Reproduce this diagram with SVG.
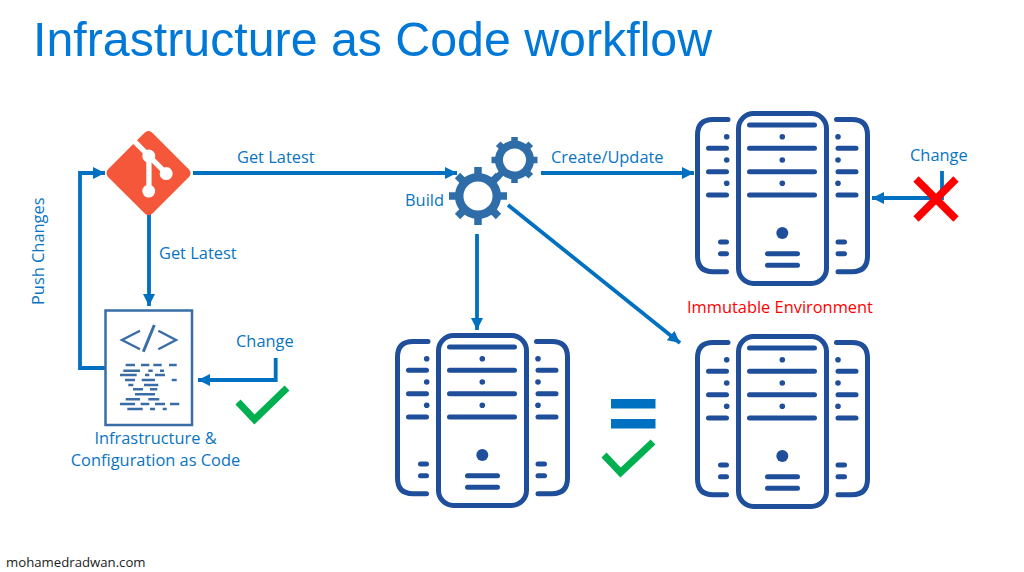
<svg xmlns="http://www.w3.org/2000/svg" width="1024" height="572" viewBox="0 0 1024 572">
<style>
.t{font-family:"Open Sans","Liberation Sans",sans-serif;font-size:16.4px;fill:#0A74C4}
.c{fill:none;stroke:#0070C0;stroke-width:3.8}
.o{fill:none;stroke:#1F4E9B;stroke-width:5;stroke-linecap:round}
.d{fill:#1F4E9B}
.g{fill:none;stroke:#2E6DA8}
.k{fill:none;stroke:#00B050;stroke-width:7}
.m{fill:none;stroke:#3A6DA6;stroke-width:2.4}
</style>
<defs>
<marker id="a" markerUnits="userSpaceOnUse" markerWidth="13" markerHeight="13" refX="12" refY="6.5" orient="auto"><path d="M0 0.500L12 6.500L0 12.500Z" fill="#0070C0"/></marker>
<g id="srv">
<rect class="o" x="43.500" y="2.500" width="88" height="170" rx="15"/>
<path class="o" d="M54.500 14H119.500M54.500 37.300H119.500M54.500 60.700H119.500M54.500 84H119.500M72.500 142.700H102.500M72.500 154.300H102.500"/>
<circle class="d" cx="87.300" cy="25.700" r="2.800"/><circle class="d" cx="87.300" cy="49" r="2.800"/><circle class="d" cx="87.300" cy="72.300" r="2.800"/><circle class="d" cx="87.300" cy="122" r="6"/>
<path class="o" d="M33 8.500H18Q2.500 8.500 2.500 24V145Q2.500 160.700 18 160.700H31.500M13.500 37.300H31.500M13.500 60.700H31.500M13.500 84H31.500M25.500 131H31.500M25.500 142.700H31.500"/>
<circle class="d" cx="31.700" cy="25.700" r="2.800"/><circle class="d" cx="31.700" cy="49" r="2.800"/><circle class="d" cx="31.700" cy="72.300" r="2.800"/>
<path class="o" d="M141.500 8.500H157Q172.500 8.500 172.500 24V145Q172.500 160.700 157 160.700H143M143 37.300H161M143 60.700H161M143 84H161M143 131H149.500M143 142.700H149.500"/>
<circle class="d" cx="143" cy="25.700" r="2.800"/><circle class="d" cx="143" cy="49" r="2.800"/><circle class="d" cx="143" cy="72.300" r="2.800"/>
</g>
</defs>
<rect width="1024" height="572" fill="#fff"/>
<text x="33" y="56" font-family="'Liberation Sans',Arial,sans-serif" font-size="48.300" fill="#0078D7">Infrastructure as Code workflow</text>
<g id="connectors">
<path class="c" marker-end="url(#a)" d="M193 173H457"/>
<path class="c" marker-end="url(#a)" d="M541 173H694"/>
<path class="c" marker-end="url(#a)" d="M149 214V306"/>
<path class="c" marker-end="url(#a)" d="M105 368H80V173H105"/>
<path class="c" marker-end="url(#a)" d="M275.700 358V380H198"/>
<path class="c" marker-end="url(#a)" d="M477 234V330"/>
<path class="c" marker-end="url(#a)" d="M508 205L680 343"/>
<path class="c" marker-end="url(#a)" d="M942 171V198H872"/>
</g>
<g id="git"><path transform="translate(106.500 131) scale(.915)" fill="#F4573A" d="M90.156 41.965L50.036 1.848a5.918 5.918 0 0 0-8.372 0l-8.328 8.332 10.566 10.566a7.030 7.030 0 0 1 7.230 1.684 7.034 7.034 0 0 1 1.669 7.277l10.187 10.184a7.028 7.028 0 0 1 7.278 1.672 7.040 7.040 0 0 1 0 9.957 7.050 7.050 0 0 1-9.965 0 7.044 7.044 0 0 1-1.528-7.660l-9.500-9.497V59.360a7.040 7.040 0 0 1 1.860 11.290 7.040 7.040 0 0 1-9.957 0 7.040 7.040 0 0 1 0-9.958 7.060 7.060 0 0 1 2.304-1.539V33.926a7.049 7.049 0 0 1-3.820-9.234L29.242 14.272 1.730 41.777a5.925 5.925 0 0 0 0 8.371L41.852 90.270a5.925 5.925 0 0 0 8.370 0l39.934-39.934a5.925 5.925 0 0 0 0-8.371"/></g>
<g id="code-doc">
<rect x="105.500" y="310.500" width="86.500" height="114.500" fill="#fff" stroke="#3A6DA6" stroke-width="2.500"/>
<path class="m" d="M140 330.700L122 340L140 349.300M158.300 330.700L176 340L158.300 349.300"/>
<path class="m" d="M154.300 325L143.300 351.700" style="stroke-width:3"/>
<path class="m" d="M125.700 365H135M141 365H149.300M153.300 365H161.700M169 365H176.700M123.300 370.700H140M148.300 370.700H152.700M160 370.700H164M120 375H136.700M145 375H149.300M155 375H165M125 380H135M141.700 380H155M171.700 380H176.700M128.300 385H133.300M144 385H158.300M133 389.300H143M150 389.300H157.300M135 394.300H155M125.700 399.300H140M148.300 399.300H159.300M120 404H135M140.700 404H149.300M155 404H165M170 404H179.300M127.300 409H142.700M150 409H155M162.700 409H166.700"/>
</g>
<g id="build-gears">
<g id="gear-big" transform="translate(478 196)"><circle class="g" r="18.800" stroke-width="8.500"/><path class="g" stroke-width="7.500" d="M0-21V-29M0 21V29M-21 0H-29M21 0H29M-15-15L-20.500-20.500M15-15L20.500-20.500M-15 15L-20.500 20.500M15 15L20.500 20.500"/></g>
<g id="gear-small" transform="translate(514.500 160)"><circle class="g" r="15.500" stroke-width="8"/><path class="g" stroke-width="6.500" d="M0-18V-23M0 18V23M-18 0H-23M18 0H23M-12.700-12.700L-16.300-16.300M12.700-12.700L16.300-16.300M-12.700 12.700L-16.300 16.300M12.700 12.700L16.300 16.300"/></g>
</g>
<use id="server-top" href="#srv" x="695" y="111"/>
<use id="server-right" href="#srv" x="695" y="334"/>
<use id="server-center" href="#srv" x="395" y="333"/>
<g id="reject"><path fill="none" stroke="#FF0000" stroke-width="7.500" d="M916 179L956 219M956 179L916 219"/></g>
<g id="equals"><rect x="611" y="399" width="44.500" height="9.500" fill="#0070C0"/><rect x="611" y="419" width="44.500" height="9.500" fill="#0070C0"/></g>
<g id="checks"><path class="k" d="M238 402L254.500 419.500L287 388"/><path class="k" d="M604 455L620.500 472.500L653 442"/></g>
<g id="labels">
<text class="t" x="237" y="163">Get Latest</text>
<text class="t" x="159" y="259">Get Latest</text>
<text class="t" x="405" y="206">Build</text>
<text class="t" x="551" y="163">Create/Update</text>
<text class="t" x="910" y="161">Change</text>
<text class="t" x="236" y="347">Change</text>
<text class="t" transform="translate(44 305) rotate(-90)">Push Changes</text>
<text class="t" x="155.500" y="444" text-anchor="middle">Infrastructure &amp;</text>
<text class="t" x="155.500" y="466" text-anchor="middle">Configuration as Code</text>
<text class="t" x="687" y="313" style="fill:#FF0000">Immutable Environment</text>
<text x="6" y="567" font-family="'Open Sans',sans-serif" font-size="13.200" fill="#222">mohamedradwan.com</text>
</g>
</svg>
